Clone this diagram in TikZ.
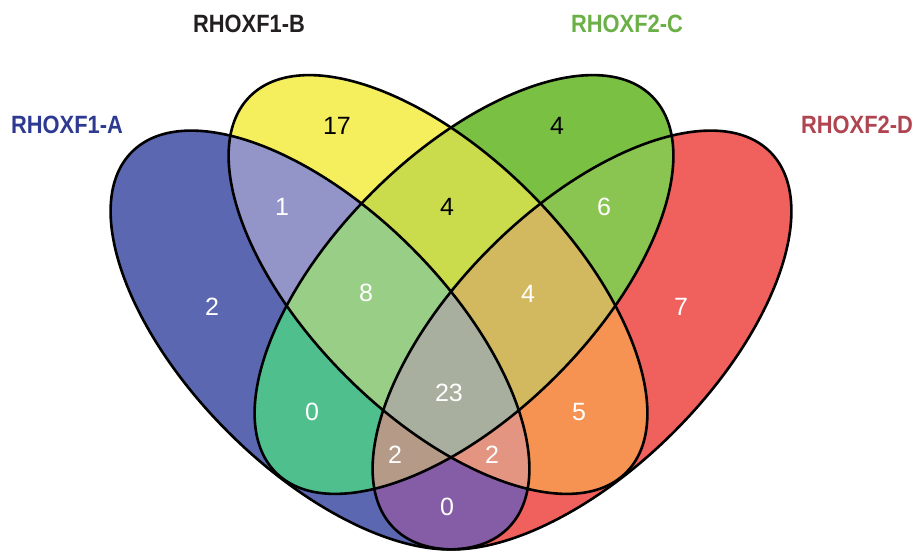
\documentclass[tikz,border=0pt]{standalone}
\usepackage{fontspec}
\setmainfont{Liberation Sans}
\definecolor{cA}{RGB}{91,103,176}
\definecolor{cB}{RGB}{245,239,94}
\definecolor{cC}{RGB}{122,193,67}
\definecolor{cD}{RGB}{240,96,93}
\definecolor{cAB}{RGB}{147,148,200}
\definecolor{cAC}{RGB}{79,191,142}
\definecolor{cAD}{RGB}{133,93,166}
\definecolor{cBC}{RGB}{202,220,75}
\definecolor{cBD}{RGB}{246,147,83}
\definecolor{cCD}{RGB}{139,197,81}
\definecolor{cABC}{RGB}{152,206,134}
\definecolor{cABD}{RGB}{228,149,129}
\definecolor{cACD}{RGB}{181,154,136}
\definecolor{cBCD}{RGB}{210,184,94}
\definecolor{cABCD}{RGB}{169,175,159}
\definecolor{tA}{RGB}{46,58,145}
\definecolor{tB}{RGB}{35,31,32}
\definecolor{tC}{RGB}{106,176,70}
\definecolor{tD}{RGB}{176,68,80}
\newcommand{\clA}{\clip[rotate around={-45:(320,210)}] (320,210) ellipse [x radius=266pt, y radius=130pt];}
\newcommand{\clB}{\clip[rotate around={-45:(438,265.5)}] (438,265.5) ellipse [x radius=266pt, y radius=130pt];}
\newcommand{\clC}{\clip[rotate around={45:(464,265.5)}] (464,265.5) ellipse [x radius=266pt, y radius=130pt];}
\newcommand{\clD}{\clip[rotate around={45:(582,210)}] (582,210) ellipse [x radius=266pt, y radius=130pt];}
\newcommand{\fillall}[1]{\fill[#1] (0,0) rectangle (919,550);}
\begin{document}
\begin{tikzpicture}[x=1pt,y=1pt,
  outl/.style={draw=black,line width=2.6pt},
  num/.style={font=\fontsize{25}{25}\selectfont,text=white,inner sep=0pt},
  numk/.style={num,text=black},
  setlabel/.style={font=\fontsize{25}{25}\selectfont\bfseries,inner sep=0pt}]
\useasboundingbox (0,0) rectangle (919,550);
% single sets
\begin{scope}\clA\fillall{cA}\end{scope}
\begin{scope}\clB\fillall{cB}\end{scope}
\begin{scope}\clC\fillall{cC}\end{scope}
\begin{scope}\clD\fillall{cD}\end{scope}
% pairs
\begin{scope}\clA\clB\fillall{cAB}\end{scope}
\begin{scope}\clA\clC\fillall{cAC}\end{scope}
\begin{scope}\clA\clD\fillall{cAD}\end{scope}
\begin{scope}\clB\clC\fillall{cBC}\end{scope}
\begin{scope}\clB\clD\fillall{cBD}\end{scope}
\begin{scope}\clC\clD\fillall{cCD}\end{scope}
% triples
\begin{scope}\clA\clB\clC\fillall{cABC}\end{scope}
\begin{scope}\clA\clB\clD\fillall{cABD}\end{scope}
\begin{scope}\clA\clC\clD\fillall{cACD}\end{scope}
\begin{scope}\clB\clC\clD\fillall{cBCD}\end{scope}
% all four
\begin{scope}\clA\clB\clC\clD\fillall{cABCD}\end{scope}
% outlines
\draw[outl,rotate around={-45:(320,210)}] (320,210) ellipse [x radius=266pt, y radius=130pt];
\draw[outl,rotate around={-45:(438,265.5)}] (438,265.5) ellipse [x radius=266pt, y radius=130pt];
\draw[outl,rotate around={45:(464,265.5)}] (464,265.5) ellipse [x radius=266pt, y radius=130pt];
\draw[outl,rotate around={45:(582,210)}] (582,210) ellipse [x radius=266pt, y radius=130pt];
% set labels
\node[setlabel,text=tA] (lA) at (67,425) {\scalebox{0.875}[1]{RHOXF1-A}};
\node[setlabel,text=tB] (lB) at (249,526) {\scalebox{0.875}[1]{RHOXF1-B}};
\node[setlabel,text=tC] (lC) at (627,526) {\scalebox{0.875}[1]{RHOXF2-C}};
\node[setlabel,text=tD] (lD) at (857,425) {\scalebox{0.875}[1]{RHOXF2-D}};
% counts
\node[num] (nA) at (212,243) {2};
\node[numk] (nB) at (337,424) {17};
\node[numk] (nC) at (557,424) {4};
\node[num] (nD) at (681,243) {7};
\node[num] (nAB) at (282,343) {1};
\node[numk] (nBC) at (447,343) {4};
\node[num] (nCD) at (604,343) {6};
\node[num] (nABC) at (366,257) {8};
\node[num] (nBCD) at (528,256) {4};
\node[num] (nABCD) at (449,157) {23};
\node[num] (nAC) at (312,138) {0};
\node[num] (nBD) at (579,138) {5};
\node[num] (nACD) at (395,95) {2};
\node[num] (nABD) at (492,95) {2};
\node[num] (nAD) at (447,43) {0};
\end{tikzpicture}
\end{document}
